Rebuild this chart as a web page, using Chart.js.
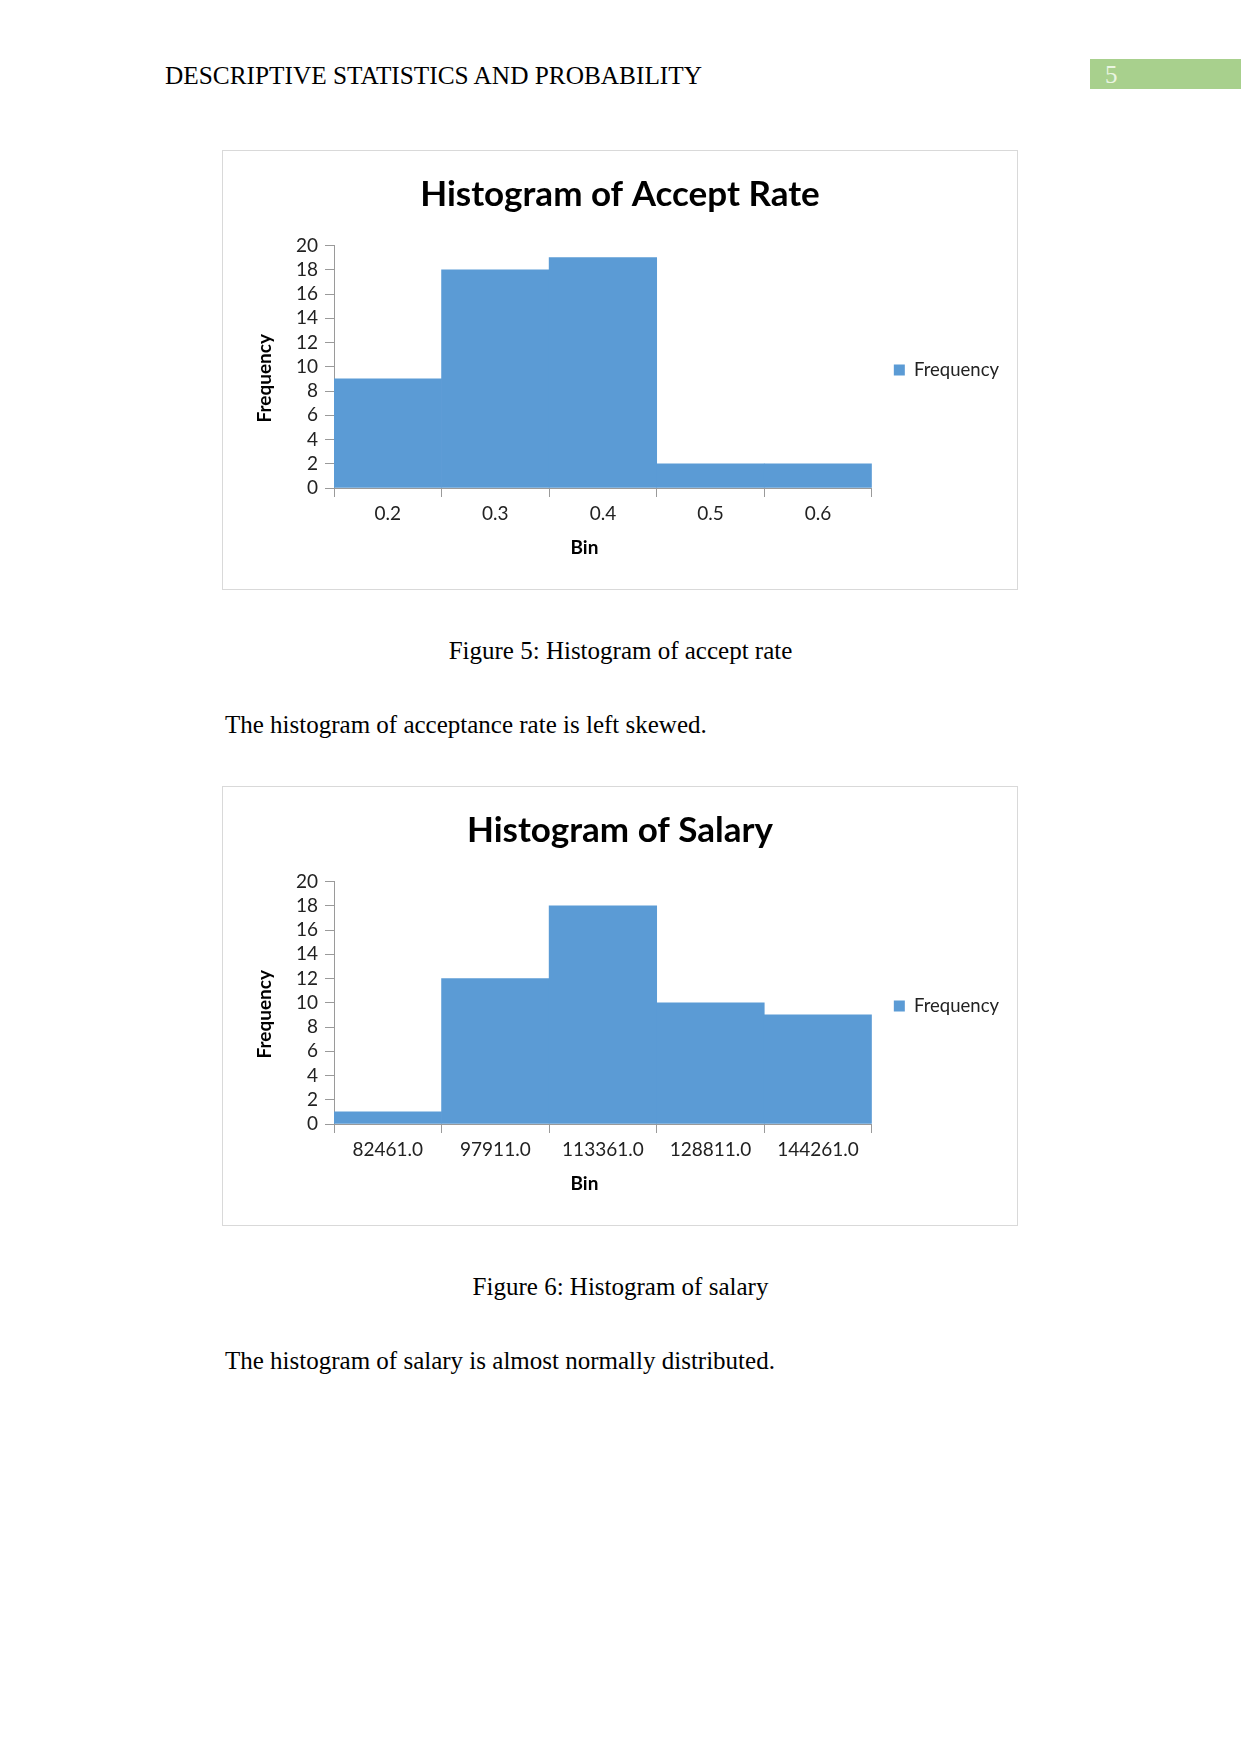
<!DOCTYPE html>
<html>
<head>
<meta charset="utf-8">
<script src="https://cdn.jsdelivr.net/npm/chart.js@4.4.1/dist/chart.umd.min.js"></script>
<style>
  html, body { margin: 0; padding: 0; background: #fff; }
  body { width: 1241px; height: 1754px; position: relative; overflow: hidden; }
  .serif { font-family: 'Liberation Serif', 'Times New Roman', serif; color: #000; position: absolute; white-space: nowrap; }
  .frame { position: absolute; border: 1px solid #d9d9d9; box-sizing: border-box; width: 796px; height: 440px; }
  .frame canvas { position: absolute; left: 0; top: 0; }
  #pn { position: absolute; left: 1090px; top: 59px; width: 151px; height: 30px; background: #a8d08d; }
  #pn span { position: absolute; left: 15px; top: 2px; font-family: 'Liberation Serif', serif; font-size: 25px; line-height: 28px; color: #eaf5e2; }
</style>
</head>
<body>
<div class="serif" id="hdr" style="left:165px; top:61px; font-size:25.3px; line-height:28px;">DESCRIPTIVE STATISTICS AND PROBABILITY</div>
<div id="pn"><span>5</span></div>

<div class="frame" style="left:222px; top:150px;"><canvas id="c1" width="794" height="438"></canvas></div>
<div class="serif" style="left:0; width:1241px; text-align:center; top:637px; font-size:25px; line-height:28px;">Figure 5: Histogram of accept rate</div>
<div class="serif" style="left:225px; top:711px; font-size:25px; line-height:28px;">The histogram of acceptance rate is left skewed.</div>

<div class="frame" style="left:222px; top:786px;"><canvas id="c2" width="794" height="438"></canvas></div>
<div class="serif" style="left:0; width:1241px; text-align:center; top:1273px; font-size:25px; line-height:28px;">Figure 6: Histogram of salary</div>
<div class="serif" style="left:225px; top:1347px; font-size:25px; line-height:28px;">The histogram of salary is almost normally distributed.</div>

<script>
// ---- data ----
const acceptTitle = 'Histogram of Accept Rate';
const acceptBins = ['0.2', '0.3', '0.4', '0.5', '0.6'];
const acceptFreq = [9, 18, 19, 2, 2];

const salaryTitle = 'Histogram of Salary';
const salaryBins = ['82461.0', '97911.0', '113361.0', '128811.0', '144261.0'];
const salaryFreq = [1, 12, 18, 10, 9];

const seriesName = 'Frequency';
const xAxisName = 'Bin';
const yAxisName = 'Frequency';
const yMin = 0, yMax = 20, yStep = 2;

// ---- styling ----
const BAR = '#5b9bd5';
const AXIS = '#9a9a9a';
const TXT = '#222222';
const FONT = 'Lato';

// axis titles placed like the spreadsheet does (slightly off the plot centre)
const axisTitlePlugin = {
  id: 'axisTitles',
  afterDraw(chart, args, opts) {
    const ca = chart.chartArea;
    const ctx = chart.ctx;
    ctx.save();
    ctx.fillStyle = '#000';
    ctx.font = 'bold 19px ' + FONT;
    ctx.textAlign = 'center';
    ctx.textBaseline = 'middle';
    ctx.fillText(opts.x, (ca.left + ca.right) / 2 + opts.xShift, ca.bottom + opts.xGap);
    ctx.translate(ca.left - opts.yGap, (ca.top + ca.bottom) / 2 + opts.yShift);
    ctx.rotate(-Math.PI / 2);
    ctx.fillText(opts.y, 0, 0);
    ctx.restore();
  }
};

// widen the legend box a little so the title stays centred on the canvas
const legendWidthPlugin = {
  id: 'legendWidth',
  beforeLayout(chart, args, opts) {
    const lg = chart.legend;
    if (lg && !lg._widened) {
      const f = lg.fit;
      lg.fit = function () { f.call(this); this.width += opts.extra; };
      lg._widened = true;
    }
  }
};

function makeChart(id, title, labels, values) {
  return new Chart(document.getElementById(id), {
    type: 'bar',
    plugins: [axisTitlePlugin, legendWidthPlugin],
    data: {
      labels: labels,
      datasets: [{
        label: seriesName,
        data: values,
        backgroundColor: BAR,
        borderWidth: 0,
        barPercentage: 1.0,
        categoryPercentage: 1.0
      }]
    },
    options: {
      responsive: false,
      animation: false,
      devicePixelRatio: 1,
      layout: { padding: { left: 0, right: 0, top: 0, bottom: 0 } },
      plugins: {
        title: {
          display: true,
          text: title,
          color: '#000',
          font: { family: FONT, size: 35, weight: 'bold' },
          padding: { top: 23, bottom: 29.5 }
        },
        legend: {
          display: true,
          position: 'right',
          align: 'center',
          labels: {
            boxWidth: 11,
            boxHeight: 11,
            padding: 22,
            color: TXT,
            font: { family: FONT, size: 18.5 }
          }
        },
        legendWidth: { extra: 8 },
        axisTitles: { x: xAxisName, y: yAxisName, xShift: -18.5, xGap: 59.5, yGap: 69, yShift: 11.5 },
        tooltip: { enabled: false }
      },
      scales: {
        x: {
          grid: { display: true, drawOnChartArea: false, drawTicks: true, tickLength: 9, color: AXIS, offset: true },
          border: { display: true, color: AXIS },
          ticks: { color: TXT, font: { family: FONT, size: 19 }, padding: 5, maxRotation: 0, autoSkip: false },
          title: { display: false },
          afterFit: function (s) { s.height = 101; }
        },
        y: {
          min: yMin,
          max: yMax,
          grid: { display: true, drawOnChartArea: false, drawTicks: true, tickLength: 9, color: AXIS },
          border: { display: true, color: AXIS },
          ticks: { stepSize: yStep, color: TXT, font: { family: FONT, size: 19 }, padding: 7, autoSkip: false },
          title: { display: false },
          afterFit: function (s) { s.width = 111; }
        }
      }
    }
  });
}

makeChart('c1', acceptTitle, acceptBins, acceptFreq);
makeChart('c2', salaryTitle, salaryBins, salaryFreq);
</script>
</body>
</html>
